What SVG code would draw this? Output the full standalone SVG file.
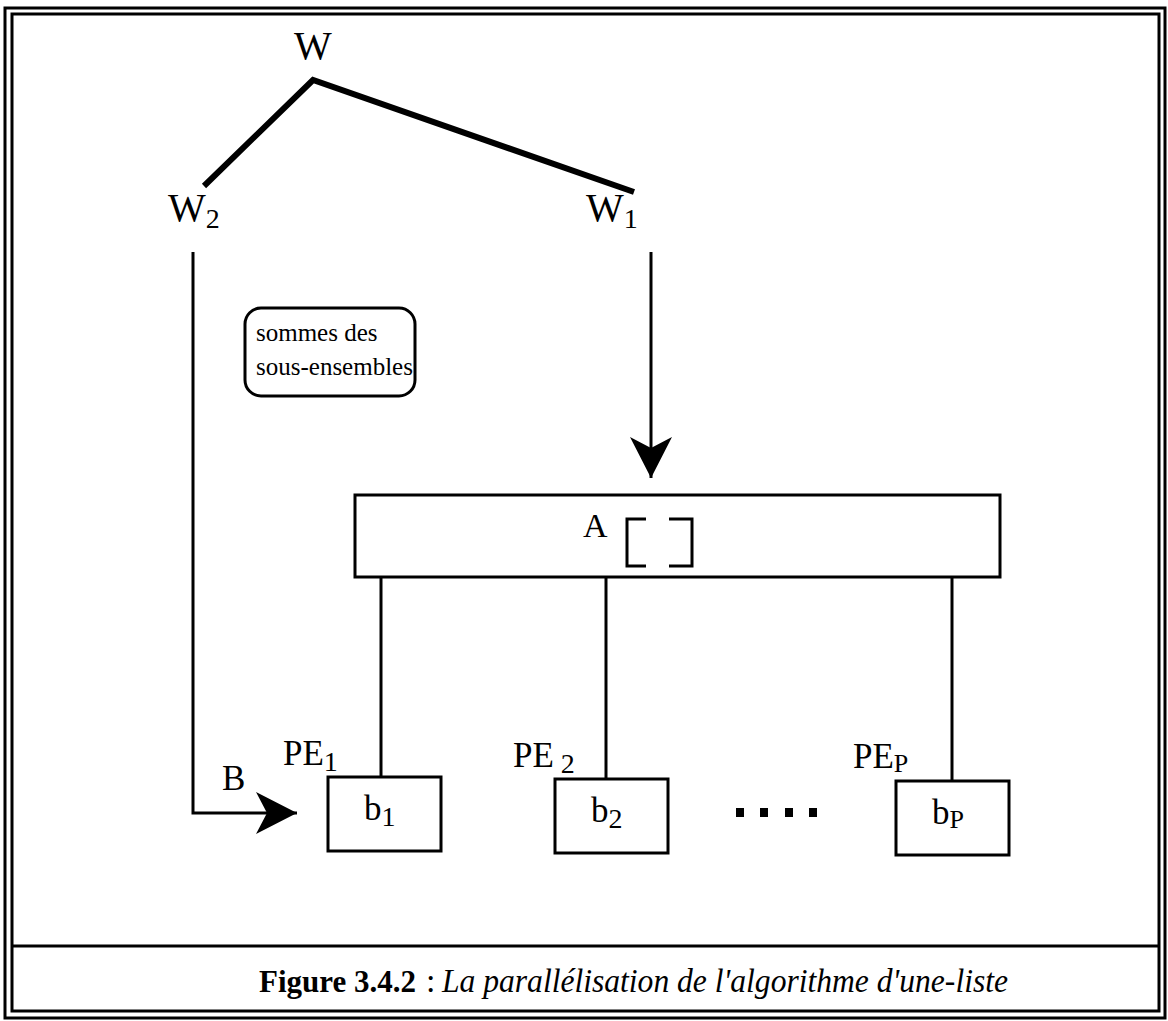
<svg xmlns="http://www.w3.org/2000/svg" width="1168" height="1021" viewBox="0 0 1168 1021">
<defs>
<style>
text{font-family:"Liberation Serif","Times New Roman",serif;fill:#000}
.lbl{font-size:40px}
.sub{font-size:28px}
.pe{font-size:35px}
.cap{font-size:34px}
.box{fill:#fff;stroke:#000;stroke-width:3}
.ln{fill:none;stroke:#000;stroke-width:3}
.frame{fill:none;stroke:#000;stroke-width:3}
</style>
<marker id="ah" markerUnits="userSpaceOnUse" markerWidth="42" markerHeight="44" viewBox="0 0 42 44" refX="41" refY="22" orient="auto">
<path d="M0,1 L41,22 L0,43 L11,22 Z" fill="#000"/>
</marker>
</defs>
<rect x="0" y="0" width="1168" height="1021" fill="#fff"/>
<g id="frame">
<rect class="frame" x="5" y="8" width="1160" height="1010"/>
<rect class="frame" x="12" y="14" width="1147" height="997"/>
<line class="frame" x1="12" y1="946" x2="1159" y2="946"/>
</g>
<g id="connectors">
<polyline points="204,186 313,80 634,192" fill="none" stroke="#000" stroke-width="6" stroke-linejoin="miter"/>
<path class="ln" d="M193,252 V813 H297" marker-end="url(#ah)"/>
<path class="ln" d="M651,252 V478" marker-end="url(#ah)"/>
<line class="ln" x1="381" y1="577" x2="381" y2="777"/>
<line class="ln" x1="606" y1="577" x2="606" y2="779"/>
<line class="ln" x1="952" y1="577" x2="952" y2="781"/>
</g>
<g id="W"><text class="lbl" x="313" y="59" text-anchor="middle">W</text></g>
<g id="W2"><text class="lbl" x="168" y="221">W<tspan class="sub" dy="7">2</tspan></text></g>
<g id="W1"><text class="lbl" x="586" y="221">W<tspan class="sub" dy="7">1</tspan></text></g>
<g id="sommes">
<rect class="box" x="245" y="308" width="170" height="88" rx="16"/>
<text x="256" y="341" font-size="25">sommes des</text>
<text x="256" y="375" font-size="25">sous-ensembles</text>
</g>
<g id="A">
<rect class="box" x="355" y="495" width="645" height="82"/>
<text x="583" y="537" font-size="34">A</text>
<path class="ln" d="M646,519 H627 V566 H646 M669,519 H692 V566 H669"/>
</g>
<g id="PE1">
<rect class="box" x="328" y="777" width="113" height="74"/>
<text class="pe" x="283" y="765">PE<tspan class="sub" dy="6">1</tspan></text>
<text class="pe" x="364" y="820">b<tspan class="sub" dy="6">1</tspan></text>
</g>
<g id="PE2">
<rect class="box" x="555" y="779" width="113" height="74"/>
<text class="pe" x="513" y="767">PE<tspan class="sub" dy="6"> 2</tspan></text>
<text class="pe" x="591" y="822">b<tspan class="sub" dy="6">2</tspan></text>
</g>
<g id="PEP">
<rect class="box" x="896" y="781" width="113" height="74"/>
<text class="pe" x="853" y="768">PE<tspan font-size="26" dy="4">P</tspan></text>
<text class="pe" x="932" y="824">b<tspan font-size="26" dy="4">P</tspan></text>
</g>
<g id="B"><text class="pe" x="222" y="790">B</text></g>
<g id="dots" fill="#000">
<rect x="736" y="808" width="8" height="9"/>
<rect x="760" y="808" width="8" height="9"/>
<rect x="785" y="808" width="8" height="9"/>
<rect x="809" y="808" width="8" height="9"/>
</g>
<g id="caption">
<text x="259" y="992" font-size="31" font-weight="bold">Figure 3.4.2</text>
<text class="cap" x="426" y="992">:</text>
<text class="cap" x="442" y="992" font-style="italic" textLength="566" lengthAdjust="spacingAndGlyphs">La parallélisation de l'algorithme d'une-liste</text>
</g>
</svg>
